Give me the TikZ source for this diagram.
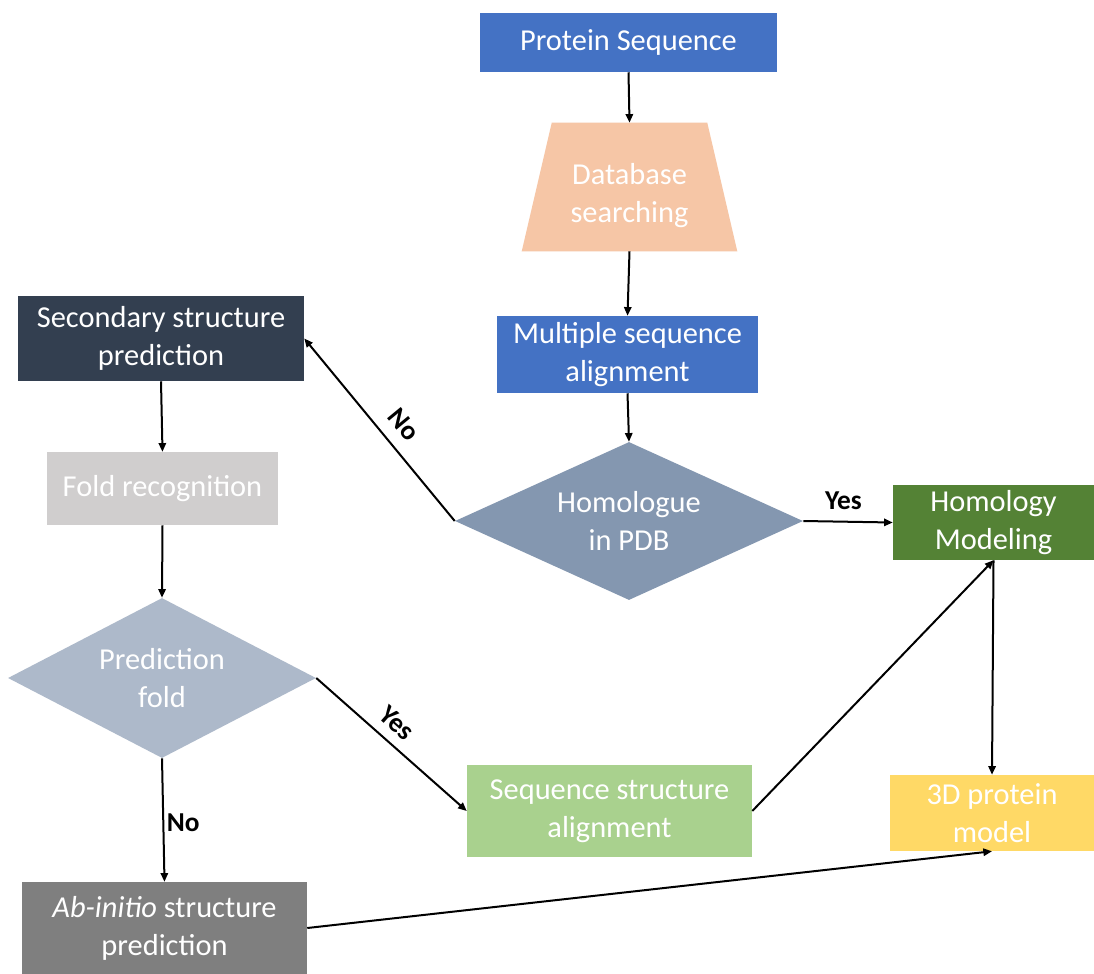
\documentclass[tikz,border=0pt]{standalone}
\usepackage{fontspec}
\setmainfont{Carlito}
\usetikzlibrary{shapes.geometric,arrows.meta,calc,backgrounds}
\definecolor{cblue}{HTML}{4472C4}
\definecolor{cpeach}{HTML}{F6C6A6}
\definecolor{cslate}{HTML}{8497B0}
\definecolor{cgreen}{HTML}{548235}
\definecolor{cyellow}{HTML}{FFD966}
\definecolor{cnavy}{HTML}{333F50}
\definecolor{cgray}{HTML}{D0CECE}
\definecolor{cpale}{HTML}{ADB9CA}
\definecolor{clgreen}{HTML}{A9D18E}
\definecolor{cdgray}{HTML}{7F7F7F}
\tikzset{
  box/.style={rectangle, inner sep=0pt, align=center, text=white,
    font=\fontsize{22.8}{28.5}\selectfont},
  dia/.style={diamond, inner sep=0pt, align=center, text=white, aspect=2,
    font=\fontsize{22.8}{28.5}\selectfont},
  arr/.style={line width=1.5pt, -{Triangle[length=6.5pt,width=5.5pt]}},
  lbl/.style={font=\fontsize{20.5}{24}\selectfont\bfseries, text=black, inner sep=2pt}
}
\begin{document}
\begin{tikzpicture}[x=0.75pt,y=-0.75pt]
\useasboundingbox (0,0) rectangle (1094,973);
% nodes
\node[box, fill=cblue, minimum width=297*0.75pt, minimum height=59*0.75pt] (ps) at (628.5,42.5) {Protein Sequence};
\node[box, minimum width=215*0.75pt, minimum height=128*0.75pt,
  label={[box, yshift=-6.5pt]center:{Database\\searching}}] (db) at (629.5,187) {};
\begin{scope}[on background layer]
\fill[white] (0,0) rectangle (1094,973);
\fill[cpeach] (db.south west) -- (db.south east) -- ($(db.north east)+(-30,0)$) -- ($(db.north west)+(30,0)$) -- cycle;
\end{scope}
\node[box, fill=cblue, minimum width=261*0.75pt, minimum height=77*0.75pt] (msa) at (627.5,354.5) {Multiple sequence\\alignment};
\node[dia, fill=cslate, minimum width=348*0.75pt, minimum height=158*0.75pt] (hom) at (629,521) {Homologue\\in PDB};
\node[box, fill=cgreen, minimum width=201*0.75pt, minimum height=75*0.75pt] (hm) at (993.5,522.5) {Homology\\Modeling};
\node[box, fill=cyellow, minimum width=204*0.75pt, minimum height=76*0.75pt] (d3) at (992,813) {3D protein\\model};
\node[box, fill=cnavy, minimum width=286*0.75pt, minimum height=85*0.75pt] (ssp) at (161,338.5) {Secondary structure\\prediction};
\node[box, fill=cgray, minimum width=231*0.75pt, minimum height=73*0.75pt] (fr) at (162.5,488.5) {Fold recognition};
\node[dia, fill=cpale, minimum width=308*0.75pt, minimum height=160*0.75pt] (pf) at (162,678) {Prediction\\fold};
\node[box, fill=clgreen, minimum width=285*0.75pt, minimum height=92*0.75pt] (ssa) at (609.5,811) {Sequence structure\\alignment};
\node[box, fill=cdgray, minimum width=285*0.75pt, minimum height=92*0.75pt] (ab) at (164.5,928) {\textit{Ab-initio} structure\\prediction};
% connectors
\draw[arr] (ps.south) -- (db.north);
\draw[arr] (db.south) -- (msa.north);
\draw[arr] (msa.south) -- (hom.north);
\draw[arr] (hom.west) -- node[lbl, pos=0.45, sloped, above=7pt] {No} (ssp.east);
\draw[arr] (hom.east) -- node[lbl, pos=0.45, above=6pt] {Yes} (hm.west);
\draw[arr] (ssp.south) -- (fr.north);
\draw[arr] (fr.south) -- (pf.north);
\draw[arr] (pf.east) -- node[lbl, pos=0.45, sloped, above=5pt] {Yes} (ssa.west);
\draw[arr] (pf.south) -- node[lbl, pos=0.52, right] {No} (ab.north);
\draw[arr] (ssa.east) -- (hm.south);
\draw[arr] (hm.south) -- (d3.north);
\draw[arr] (ab.east) -- (d3.south);
\end{tikzpicture}
\end{document}
